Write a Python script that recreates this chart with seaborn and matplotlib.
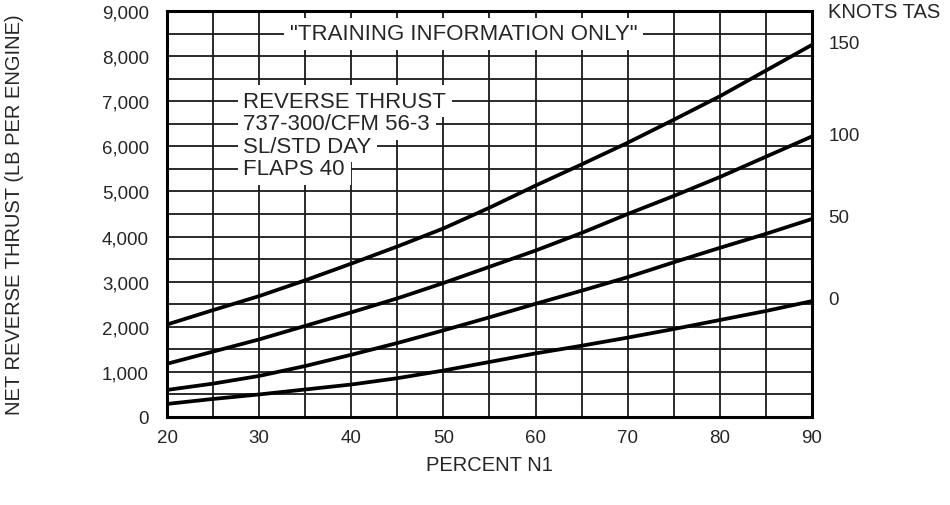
"""
Reverse thrust chart: net reverse thrust vs percent N1, one curve per airspeed.
"""
import pandas as pd
import matplotlib.pyplot as plt
import seaborn as sns

# ── data ───────────────────────────────────────────────────────────────────
percent_n1 = [20, 25, 30, 35, 40, 45, 50, 55, 60, 65, 70, 75, 80, 85, 90]
thrust_150 = [2050, 2370, 2680, 3030, 3400, 3780, 4180, 4640, 5130, 5600, 6080, 6590, 7110, 7680, 8250]
thrust_100 = [1180, 1450, 1720, 2020, 2320, 2630, 2970, 3330, 3690, 4080, 4500, 4900, 5320, 5770, 6220]
thrust_50  = [600, 740, 910, 1130, 1380, 1640, 1920, 2210, 2510, 2800, 3100, 3430, 3750, 4060, 4390]
thrust_0   = [290, 400, 500, 610, 720, 860, 1030, 1220, 1410, 1580, 1760, 1950, 2150, 2350, 2570]
speeds     = ["150", "100", "50", "0"]

x_ticks = list(range(20, 91, 10))
y_ticks = list(range(0, 9001, 1000))
note_lines = ["REVERSE THRUST", "737-300/CFM 56-3", "SL/STD DAY", "FLAPS 40"]
note_y     = [7000, 6500, 6000, 5500]

series = dict(zip(speeds, [thrust_150, thrust_100, thrust_50, thrust_0]))
df = pd.concat(
    [pd.DataFrame({"n1": percent_n1, "thrust": v, "tas": k}) for k, v in series.items()],
    ignore_index=True,
)

sns.set_style("white")
plt.rcParams["font.family"] = ["Liberation Sans", "DejaVu Sans"]

fig, ax = plt.subplots(figsize=(9.5, 5.06), dpi=100)
fig.subplots_adjust(left=167 / 950, right=812 / 950, top=1 - 12 / 506, bottom=1 - 418 / 506)

# grid every 5 % N1 and every 500 lb
for gx in range(20, 91, 5):
    ax.axvline(gx, color="#1a1a1a", lw=1.3, zorder=1)
for gy in range(0, 9001, 500):
    ax.axhline(gy, color="#1a1a1a", lw=1.3, zorder=1)

sns.lineplot(data=df, x="n1", y="thrust", hue="tas", hue_order=speeds,
             palette=["black"] * 4, lw=2.7, legend=False, ax=ax, zorder=3)

ax.set_xlim(20, 90)
ax.set_ylim(0, 9000)
ax.set_xticks(x_ticks)
ax.set_yticks(y_ticks)
ax.set_yticklabels([f"{v:,}" for v in y_ticks])
ax.tick_params(length=0, labelsize=13.5)
ax.tick_params(axis="y", pad=13)
ax.tick_params(axis="x", pad=9)
ax.set_xlabel("PERCENT N1", fontsize=14.5, va="center")
ax.set_ylabel("NET REVERSE THRUST (LB PER ENGINE)", fontsize=14.5, va="center")
ax.xaxis.set_label_coords(0.5, (418 - 466) / 406)
ax.yaxis.set_label_coords((15 - 167) / 645, 0.5)
for s in ax.spines.values():
    s.set_linewidth(2.2)
    s.set_color("black")
    s.set_zorder(4)

box = dict(facecolor="white", edgecolor="none", pad=4)
ax.text(52.2, 8500, "\"TRAINING INFORMATION ONLY\"", ha="center", va="center",
        fontsize=16, bbox=box, zorder=2)
for line, yv in zip(note_lines, note_y):
    ax.text(28.3, yv, line, ha="left", va="center", fontsize=16, bbox=box, zorder=2)

# airspeed labels at right end of each curve
for k, v in series.items():
    ax.annotate(k, (percent_n1[-1], v[-1]), xytext=(12, 1), textcoords="offset points",
                ha="left", va="center", fontsize=13.5, annotation_clip=False)
ax.text(1.025, 1.0, "KNOTS TAS", transform=ax.transAxes, ha="left", va="center", fontsize=14.5)

plt.savefig("out.png", dpi=100)
